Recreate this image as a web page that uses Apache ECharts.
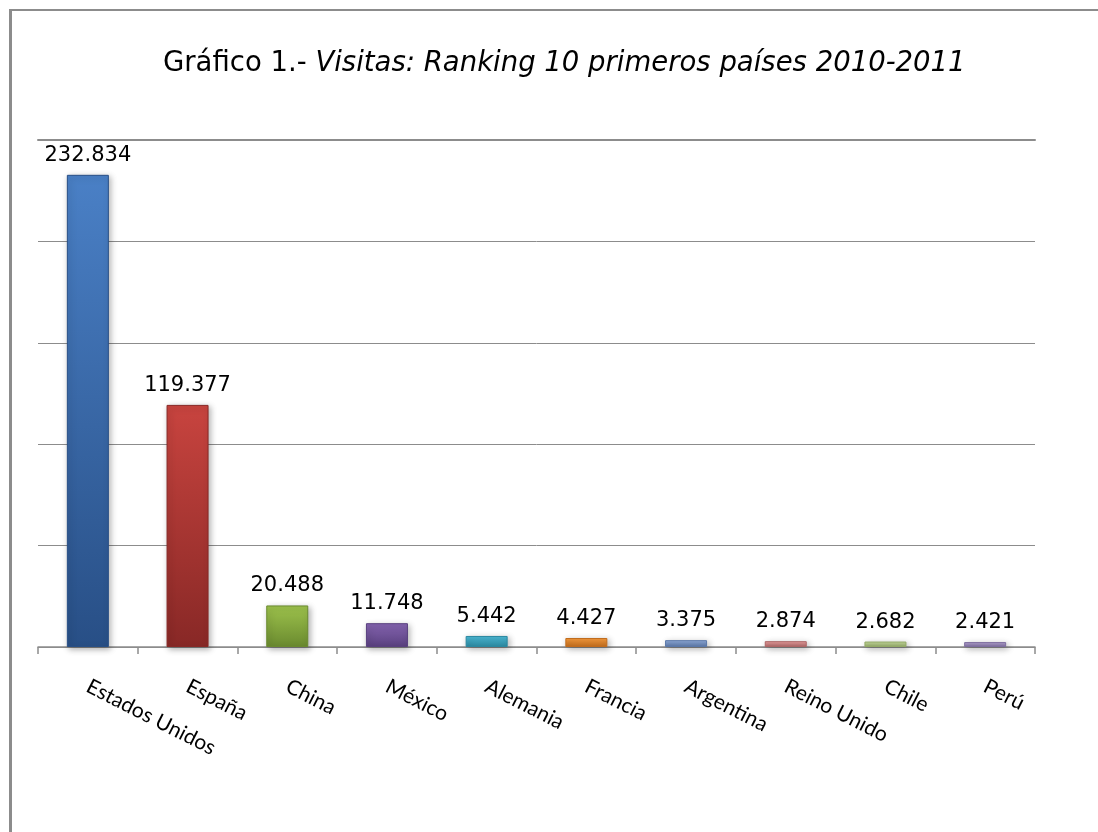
<!DOCTYPE html>
<html>
<head>
<meta charset="utf-8">
<script src="https://cdn.jsdelivr.net/npm/echarts@6/dist/echarts.min.js"></script>
<style>
html, body { margin: 0; padding: 0; background: #fff; }
#chart { width: 1098px; height: 832px; }
</style>
</head>
<body>
<div id="chart"></div>
<script>
// datos
var paises = ['Estados Unidos', 'España', 'China', 'México', 'Alemania', 'Francia', 'Argentina', 'Reino Unido', 'Chile', 'Perú'];
var visitas = [232834, 119377, 20488, 11748, 5442, 4427, 3375, 2874, 2682, 2421];
var ejeMin = 0, ejeMax = 250000, ejeIntervalo = 50000;

// colores de cada barra (arriba, abajo)
var colores = [
	['#4a80c6', '#284f86'],
	['#c8443f', '#882826'],
	['#9dc24c', '#6a8a2f'],
	['#8564b0', '#59407f'],
	['#4cbad6', '#2b88a0'],
	['#f79c3e', '#c26c1c'],
	['#8fabda', '#5b78a9'],
	['#eaa0a0', '#ae6666'],
	['#c8dca0', '#93aa66'],
	['#b5a5d2', '#7d6d9f']
];
var gris = '#8c8c8c';

function miles(v) {
	return String(v).replace(/\B(?=(\d{3})+(?!\d))/g, '.');
}

var myChart = echarts.init(document.getElementById('chart'));
var option = {
	backgroundColor: '#fff',
	animation: false,
	title: {
		left: 158,
		top: 45,
		text: '{a|Gráfico 1.- }{b|Visitas: Ranking 10 primeros países 2010-2011}',
		textStyle: {
			fontWeight: 'normal',
			rich: {
				a: { fontFamily: 'DejaVu Sans', fontSize: 27.5, fontWeight: 'normal', color: '#000' },
				b: { fontFamily: 'DejaVu Sans', fontSize: 27.5, fontWeight: 'normal', fontStyle: 'italic', color: '#000' }
			}
		}
	},
	graphic: [
		{ type: 'rect', shape: { x: 9, y: 10, width: 3, height: 822 }, style: { fill: gris } },
		{ type: 'rect', shape: { x: 9, y: 9, width: 1089, height: 2 }, style: { fill: gris } }
	],
	grid: { left: 38, right: 63, top: 140, bottom: 185, containLabel: false },
	xAxis: [{
		type: 'category',
		data: paises,
		axisLine: { show: true, lineStyle: { color: gris, width: 1.5 } },
		axisTick: { show: true, interval: 0, length: 7, lineStyle: { color: gris, width: 1.5 } },
		axisLabel: {
			interval: 0,
			rotate: -27,
			margin: 38,
			fontFamily: 'Lato',
			fontSize: 21,
			color: '#000'
		}
	}, {
		type: 'category',
		position: 'top',
		data: paises,
		axisLine: { show: true, lineStyle: { color: gris, width: 2 } },
		axisTick: { show: false },
		axisLabel: { show: false }
	}],
	yAxis: {
		type: 'value',
		min: ejeMin,
		max: ejeMax,
		interval: ejeIntervalo,
		axisLine: { show: false },
		axisTick: { show: false },
		axisLabel: { show: false },
		splitLine: { lineStyle: { color: gris, width: 1 } }
	},
	series: [{
		type: 'bar',
		barWidth: 42,
		data: visitas.map(function(v, i) {
			return {
				value: v,
				itemStyle: {
					color: new echarts.graphic.LinearGradient(0, 0, 0, 1, [
						{ offset: 0, color: colores[i][0] },
						{ offset: 1, color: colores[i][1] }
					]),
					borderColor: colores[i][1],
					borderWidth: 1,
					shadowColor: 'rgba(0,0,0,0.3)',
					shadowBlur: 6,
					shadowOffsetX: 2,
					shadowOffsetY: 2
				}
			};
		}),
		label: {
			show: true,
			position: 'top',
			distance: 9,
			fontFamily: 'DejaVu Sans',
			fontSize: 21,
			color: '#000',
			formatter: function(p) { return miles(p.value); }
		}
	}]
};
myChart.setOption(option);
</script>
</body>
</html>
